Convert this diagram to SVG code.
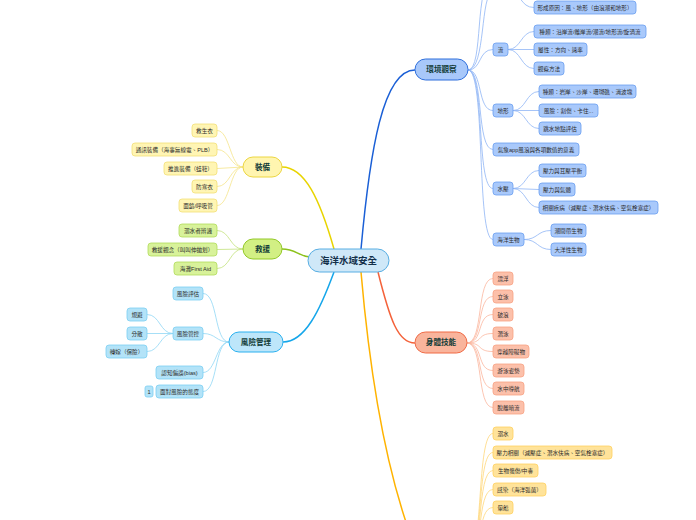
<svg xmlns="http://www.w3.org/2000/svg" width="696" height="520" viewBox="0 0 696 520">
<style>
text{font-family:"Liberation Sans","Noto Sans CJK TC",sans-serif;text-anchor:middle;dominant-baseline:central}
.s{font-size:5.6px;fill:#2b2b2b}
.m{font-size:7.6px;font-weight:bold;fill:#123c38}
.r{font-size:9.5px;font-weight:bold;fill:#14304a}
.c{fill:none}
.nb{fill:#a9c9fb;stroke:#6a9ef0;stroke-width:0.8}
.no{fill:#fcc0aa;stroke:#f7a284;stroke-width:0.8}
.ny{fill:#ffe39a;stroke:#ffd060;stroke-width:0.8}
.ne{fill:#fff5b4;stroke:#f2e077;stroke-width:0.8}
.ng{fill:#d8f29a;stroke:#b1dc5a;stroke-width:0.8}
.nc{fill:#b3e3f8;stroke:#7ccff3;stroke-width:0.8}
</style>
<rect width="696" height="520" fill="#ffffff"/>
<g id="connectors" class="c">
  <!-- main branches -->
  <path d="M361,249 C370,150 383,70 415,70" stroke="#1a5fd6" stroke-width="1.5"/>
  <path d="M378,272 C390,320 398,343 415,343" stroke="#f4623a" stroke-width="1.5"/>
  <path d="M361,272 C372,400 390,475 407,525" stroke="#ffb300" stroke-width="1.5"/>
  <path d="M334,249 C320,200 305,167 282,167" stroke="#e8d400" stroke-width="1.5"/>
  <path d="M310,257 C298,256 296,249 282,249" stroke="#8cc21c" stroke-width="1.5"/>
  <path d="M334,272 C320,310 305,342 283,342" stroke="#15a6ea" stroke-width="1.5"/>
  <!-- environment level 2 -->
  <g stroke="#8fb5f5" stroke-width="0.8">
    <path d="M468,70 C484,70 474,-20 493,-20"/>
    <path d="M468,70 C486,70 480,-8 493,-8"/>
    <path d="M468,70 C482,70 478,49.5 493,49.5"/>
    <path d="M468,70 C483,70 477,110.5 493,110.5"/>
    <path d="M468,70 C484,70 476,149.5 493,149.5"/>
    <path d="M468,70 C485,70 476,188.5 493,188.5"/>
    <path d="M468,70 C486,70 476,239.5 493,239.5"/>
    <!-- level 3 -->
    <path d="M508,-8 C522,-8 520,7.5 534,7.5"/>
    <path d="M508,-8 C518,-8 520,-20 526,-22"/>
    <path d="M508,49.5 C521,49.5 521,31.5 534,31.5"/>
    <path d="M508,49.5 L534,49.5"/>
    <path d="M508,49.5 C521,49.5 521,68.5 534,68.5"/>
    <path d="M513,110.5 C526,110.5 526,91.5 539,91.5"/>
    <path d="M513,110.5 L539,110.5"/>
    <path d="M513,110.5 C526,110.5 526,128.5 539,128.5"/>
    <path d="M513,188.5 C526,188.5 526,170.5 539,170.5"/>
    <path d="M513,188.5 L539,189.5"/>
    <path d="M513,188.5 C526,188.5 526,207.5 539,207.5"/>
    <path d="M524,239.5 C538,239.5 537,230.5 551,230.5"/>
    <path d="M524,239.5 C538,239.5 537,249.5 551,249.5"/>
  </g>
  <!-- physical skills -->
  <g stroke="#fbb69e" stroke-width="0.8">
    <path d="M467,343 C484,343 476,278.5 493,278.5"/>
    <path d="M467,343 C484,343 476,296.5 493,296.5"/>
    <path d="M467,343 C484,343 476,314.5 493,314.5"/>
    <path d="M467,343 C484,343 476,333.5 493,333.5"/>
    <path d="M467,343 C484,343 476,351.5 493,351.5"/>
    <path d="M467,343 C484,343 476,370.5 493,370.5"/>
    <path d="M467,343 C484,343 476,388.5 493,388.5"/>
    <path d="M467,343 C484,343 476,407.5 493,407.5"/>
  </g>
  <!-- bottom branch -->
  <g stroke="#ffd77a" stroke-width="0.8">
    <path d="M467,560 C484,560 476,433.5 493,433.5"/>
    <path d="M467,560 C484,560 476,452.5 493,452.5"/>
    <path d="M467,560 C484,560 476,470.5 493,470.5"/>
    <path d="M467,560 C484,560 476,489.5 493,489.5"/>
    <path d="M467,560 C484,560 476,507.5 493,507.5"/>
    <path d="M467,560 C484,560 478,525 485,530"/>
  </g>
  <!-- equipment -->
  <g stroke="#f5e58a" stroke-width="0.8">
    <path d="M243,167 C230,167 230,130.5 217,130.5"/>
    <path d="M243,167 C230,167 230,149.5 217,149.5"/>
    <path d="M243,167 L217,168.5"/>
    <path d="M243,167 C230,167 230,186.5 217,186.5"/>
    <path d="M243,167 C230,167 230,205.5 217,205.5"/>
  </g>
  <!-- rescue -->
  <g stroke="#c3e27c" stroke-width="0.8">
    <path d="M243,249 C230,249 230,230.5 217,230.5"/>
    <path d="M243,249 L217,249.5"/>
    <path d="M243,249 C230,249 230,268.5 217,268.5"/>
  </g>
  <!-- risk -->
  <g stroke="#8fd7f5" stroke-width="0.8">
    <path d="M229,342 C214,342 218,293.5 203,293.5"/>
    <path d="M229,342 C216,342 216,333.5 203,333.5"/>
    <path d="M229,342 C216,342 216,372.5 203,372.5"/>
    <path d="M229,342 C214,342 218,391.5 203,391.5"/>
    <path d="M173,333.5 C160,333.5 160,314.5 147,314.5"/>
    <path d="M173,333.5 L147,333.5"/>
    <path d="M173,333.5 C160,333.5 160,351.5 147,351.5"/>
  </g>
</g>
<g id="root"><rect x="308" y="249" width="81" height="23" rx="11.5" fill="#cfe8f8" stroke="#58aee3" stroke-width="1"/><text class="r" x="348.5" y="260.5">海洋水域安全</text></g>
<g id="env"><rect x="415" y="59" width="53" height="21" rx="10.5" fill="#a8c8fa" stroke="#2f6fdc" stroke-width="1"/><text class="m" x="441.5" y="69.5">環境觀察</text></g>
<g id="skill"><rect x="415" y="332" width="52" height="21" rx="10.5" fill="#f9b49c" stroke="#f06a45" stroke-width="1"/><text class="m" x="441" y="342.5">身體技能</text></g>
<g id="equip"><rect x="243" y="157" width="39" height="20" rx="10" fill="#fff5b0" stroke="#ecd640" stroke-width="1"/><text class="m" x="262.5" y="167">裝備</text></g>
<g id="rescue"><rect x="243" y="239" width="39" height="20" rx="10" fill="#d2ef84" stroke="#93c928" stroke-width="1"/><text class="m" x="262.5" y="249">救援</text></g>
<g id="risk"><rect x="229" y="332" width="54" height="20" rx="10" fill="#bde6fa" stroke="#2ab0ef" stroke-width="1"/><text class="m" x="256" y="342">風險管理</text></g>

<g id="n-liu"><rect class="nb" x="493" y="43" width="15" height="13" rx="3"/><text class="s" x="500.5" y="49.5">流</text></g>
<g id="n-dixing"><rect class="nb" x="493" y="104" width="20" height="13" rx="3"/><text class="s" x="503" y="110.5">地形</text></g>
<g id="n-app"><rect class="nb" x="493" y="143" width="86" height="13" rx="3"/><text class="s" x="536" y="149.5">氣象app風浪與各項數值的意義</text></g>
<g id="n-shuiya"><rect class="nb" x="493" y="182" width="20" height="13" rx="3"/><text class="s" x="503" y="188.5">水壓</text></g>
<g id="n-bio"><rect class="nb" x="493" y="233" width="31" height="13" rx="3"/><text class="s" x="508.5" y="239.5">海洋生物</text></g>

<g id="n-cause"><rect class="nb" x="534" y="1" width="102" height="13" rx="3"/><text class="s" x="585" y="7.5">形成原因：風、地形（由浪潮和地形）</text></g>
<g id="n-liu1"><rect class="nb" x="534" y="25" width="112" height="13" rx="3"/><text class="s" x="590" y="31.5">種類：沿岸流/離岸流/潮流/地形流/旋渦流</text></g>
<g id="n-liu2"><rect class="nb" x="534" y="43" width="53" height="13" rx="3"/><text class="s" x="560.5" y="49.5">屬性：方向、速率</text></g>
<g id="n-liu3"><rect class="nb" x="534" y="62" width="30" height="13" rx="3"/><text class="s" x="549" y="68.5">觀察方法</text></g>
<g id="n-dx1"><rect class="nb" x="539" y="85" width="97" height="13" rx="3"/><text class="s" x="587.5" y="91.5">種類：岩岸、沙岸、珊瑚礁、消波塊</text></g>
<g id="n-dx2"><rect class="nb" x="539" y="104" width="59" height="13" rx="3"/><text class="s" x="568.5" y="110.5">風險：割傷、卡住...</text></g>
<g id="n-dx3"><rect class="nb" x="539" y="122" width="42" height="13" rx="3"/><text class="s" x="560" y="128.5">跳水地點評估</text></g>
<g id="n-sy1"><rect class="nb" x="539" y="164" width="47" height="13" rx="3"/><text class="s" x="562.5" y="170.5">壓力與耳壓平衡</text></g>
<g id="n-sy2"><rect class="nb" x="539" y="183" width="36" height="13" rx="3"/><text class="s" x="557" y="189.5">壓力與氣體</text></g>
<g id="n-sy3"><rect class="nb" x="539" y="201" width="119" height="13" rx="3"/><text class="s" x="598.5" y="207.5">相關疾病（減壓症、潛水伕病、空氣栓塞症）</text></g>
<g id="n-bio1"><rect class="nb" x="551" y="224" width="35" height="13" rx="3"/><text class="s" x="568.5" y="230.5">潮間帶生物</text></g>
<g id="n-bio2"><rect class="nb" x="551" y="243" width="35" height="13" rx="3"/><text class="s" x="568.5" y="249.5">大洋性生物</text></g>

<g id="n-sk1"><rect class="no" x="493" y="272" width="20" height="13" rx="3"/><text class="s" x="503" y="278.5">漂浮</text></g>
<g id="n-sk2"><rect class="no" x="493" y="290" width="20" height="13" rx="3"/><text class="s" x="503" y="296.5">立泳</text></g>
<g id="n-sk3"><rect class="no" x="493" y="308" width="20" height="13" rx="3"/><text class="s" x="503" y="314.5">破浪</text></g>
<g id="n-sk4"><rect class="no" x="493" y="327" width="20" height="13" rx="3"/><text class="s" x="503" y="333.5">潛泳</text></g>
<g id="n-sk5"><rect class="no" x="493" y="345" width="36" height="13" rx="3"/><text class="s" x="511" y="351.5">穿越障礙物</text></g>
<g id="n-sk6"><rect class="no" x="493" y="364" width="31" height="13" rx="3"/><text class="s" x="508.5" y="370.5">游泳姿勢</text></g>
<g id="n-sk7"><rect class="no" x="493" y="382" width="31" height="13" rx="3"/><text class="s" x="508.5" y="388.5">水中導航</text></g>
<g id="n-sk8"><rect class="no" x="493" y="401" width="31" height="13" rx="3"/><text class="s" x="508.5" y="407.5">脫離暗流</text></g>

<g id="n-h1"><rect class="ny" x="493" y="427" width="20" height="13" rx="3"/><text class="s" x="503" y="433.5">溺水</text></g>
<g id="n-h2"><rect class="ny" x="493" y="446" width="119" height="13" rx="3"/><text class="s" x="552.5" y="452.5">壓力相關（減壓症、潛水伕病、空氣栓塞症）</text></g>
<g id="n-h3"><rect class="ny" x="493" y="464" width="45" height="13" rx="3"/><text class="s" x="515.5" y="470.5">生物螫傷/中毒</text></g>
<g id="n-h4"><rect class="ny" x="493" y="483" width="53" height="13" rx="3"/><text class="s" x="519.5" y="489.5">感染（海洋弧菌）</text></g>
<g id="n-h5"><rect class="ny" x="493" y="501" width="20" height="13" rx="3"/><text class="s" x="503" y="507.5">暈船</text></g>

<g id="n-e1"><rect class="ne" x="192" y="124" width="25" height="13" rx="3"/><text class="s" x="204.5" y="130.5">救生衣</text></g>
<g id="n-e2"><rect class="ne" x="132" y="143" width="85" height="13" rx="3"/><text class="s" x="174.5" y="149.5">通訊裝備（海事無線電、PLB）</text></g>
<g id="n-e3"><rect class="ne" x="164" y="162" width="53" height="13" rx="3"/><text class="s" x="190.5" y="168.5">推進裝備（蛙鞋）</text></g>
<g id="n-e4"><rect class="ne" x="192" y="180" width="25" height="13" rx="3"/><text class="s" x="204.5" y="186.5">防寒衣</text></g>
<g id="n-e5"><rect class="ne" x="179" y="199" width="38" height="13" rx="3"/><text class="s" x="198" y="205.5">面鏡/呼吸管</text></g>

<g id="n-r1"><rect class="ng" x="179" y="224" width="38" height="13" rx="3"/><text class="s" x="198" y="230.5">溺水者辨識</text></g>
<g id="n-r2"><rect class="ng" x="148" y="243" width="69" height="13" rx="3"/><text class="s" x="182.5" y="249.5">救援觀念（叫叫伸拋划）</text></g>
<g id="n-r3"><rect class="ng" x="174" y="262" width="43" height="13" rx="3"/><text class="s" x="195.5" y="268.5">海灘First Aid</text></g>

<g id="n-k1"><rect class="nc" x="173" y="287" width="30" height="13" rx="3"/><text class="s" x="188" y="293.5">風險評估</text></g>
<g id="n-k2"><rect class="nc" x="173" y="327" width="30" height="13" rx="3"/><text class="s" x="188" y="333.5">風險管控</text></g>
<g id="n-k21"><rect class="nc" x="127" y="308" width="20" height="13" rx="3"/><text class="s" x="137" y="314.5">規避</text></g>
<g id="n-k22"><rect class="nc" x="127" y="327" width="20" height="13" rx="3"/><text class="s" x="137" y="333.5">分散</text></g>
<g id="n-k23"><rect class="nc" x="106" y="345" width="41" height="13" rx="3"/><text class="s" x="126.5" y="351.5">轉嫁（保險）</text></g>
<g id="n-k3"><rect class="nc" x="156" y="366" width="47" height="13" rx="3"/><text class="s" x="179.5" y="372.5">認知偏誤(bias)</text></g>
<g id="n-k4"><rect class="nc" x="156" y="385" width="47" height="13" rx="3"/><text class="s" x="179.5" y="391.5">面對風險的態度</text></g>
<g id="n-k4b"><rect class="nc" x="145" y="386" width="8" height="11" rx="2"/><text class="s" x="149" y="391.5">1</text></g>
</svg>
